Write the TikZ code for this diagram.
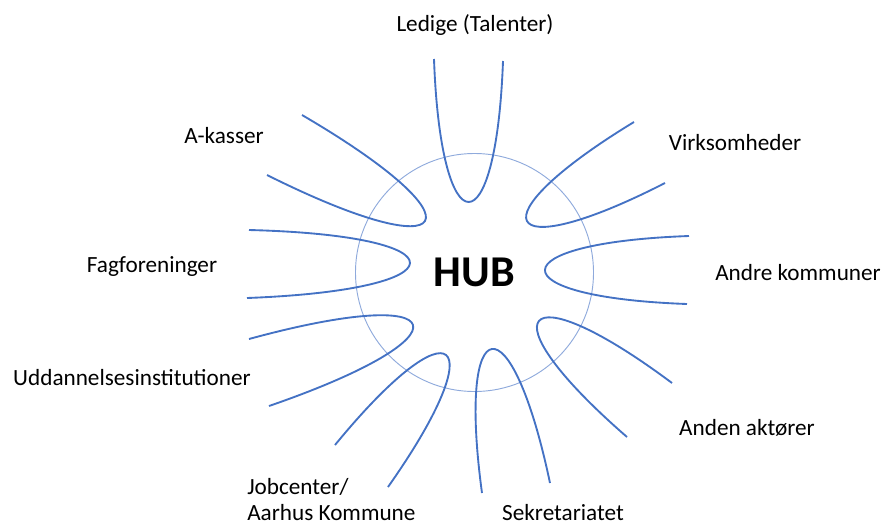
\documentclass[tikz,border=0pt]{standalone}
\usepackage{fontspec}
\setmainfont{Carlito}
\usetikzlibrary{calc}
\definecolor{loopblue}{HTML}{4472C4}
\definecolor{ringblue}{HTML}{8FAADC}
\tikzset{
  petal/.style={draw=loopblue,line width=1.4pt},
  ring/.style={draw=ringblue,line width=.7pt,circle,inner sep=0pt},
  partner/.style={font=\fontsize{17.4}{19.5}\selectfont,inner sep=0pt,align=left}
}

\begin{document}
\begin{tikzpicture}[x=.75pt,y=-.75pt]
    \useasboundingbox (0,0) rectangle (883,526);
    \node[ring,minimum size=178.5pt,font=\fontsize{33}{33}\selectfont\bfseries] (hub) at (474.5,272.5) {HUB};
    % loops: one end / tip / other end
    \foreach \a/\t/\b in {{434,59}/{468.5,202}/{503,61},
                          {634,122}/{527,221}/{665,183},
                          {689,236}/{545,270}/{687,304},
                          {672,383}/{539,321}/{627,437},
                          {550,483}/{492,349}/{482,493},
                          {388,487}/{446,355}/{335,445},
                          {269,406}/{413,325}/{249,339},
                          {247,298}/{410,263}/{249,230},
                          {267,175}/{425,221}/{302,115}}
    {
      \draw[petal] (\a) .. controls ($.2333*(\a)-.5667*(\b)+1.3333*(\t)$)
        and ($.2333*(\b)-.5667*(\a)+1.3333*(\t)$) .. (\b);
    }
    \node[partner] (ledige) at (475,25) {Ledige (Talenter)};
    \node[partner] (virk) at (735,143) {Virksomheder};
    \node[partner] (andre) at (798,273) {Andre kommuner};
    \node[partner] (anden) at (747,428) {Anden aktører};
    \node[partner] (sekr) at (563,513) {Sekretariatet};
    \node[partner,anchor=west] (job) at (247,500) {Jobcenter/\\Aarhus Kommune};
    \node[partner] (udd) at (132,378) {Uddannelsesinstitutioner};
    \node[partner] (fag) at (152,267) {Fagforeninger};
    \node[partner] (akas) at (224,136) {A-kasser};
\end{tikzpicture}
\end{document}
